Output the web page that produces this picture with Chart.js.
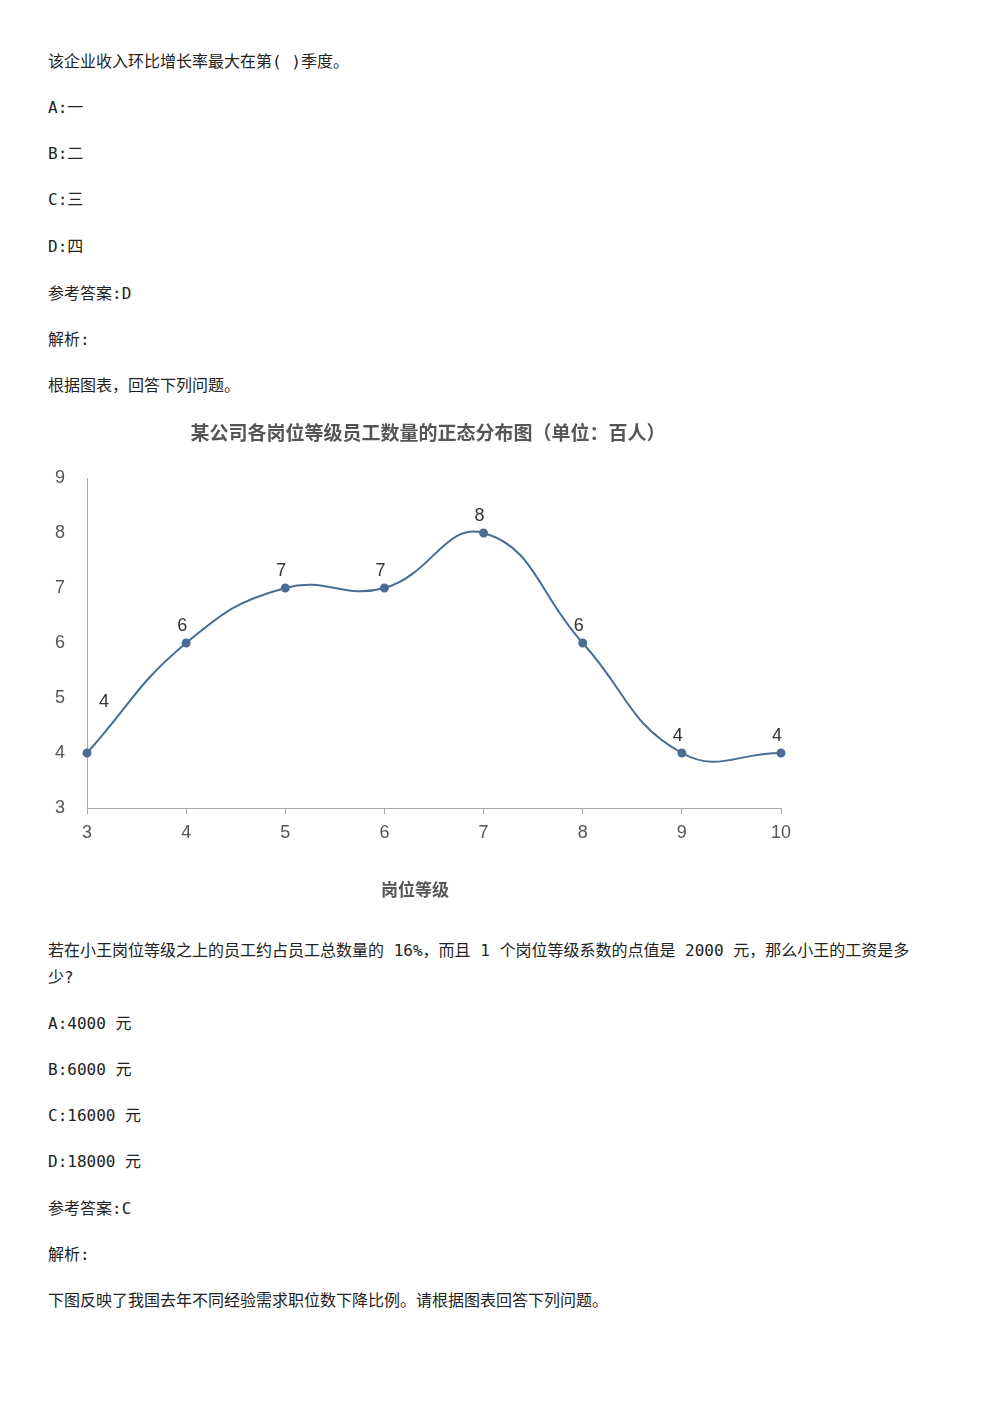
<!DOCTYPE html>
<html><head><meta charset="utf-8">
<script src="https://cdn.jsdelivr.net/npm/chart.js@4"></script>
<style>
body{margin:0;width:1000px;height:1414px;background:#fff;position:relative;font-family:"DejaVu Sans Mono","Noto Sans CJK SC",monospace;font-size:16px;color:#222}
.t{position:absolute;left:48px;line-height:27px;white-space:nowrap}
#wrap{position:absolute;left:45px;top:415px;width:770px;height:490px}
</style></head><body>
<div class="t" style="top:48px">该企业收入环比增长率最大在第( )季度。</div>
<div class="t" style="top:94px">A:一</div>
<div class="t" style="top:140px">B:二</div>
<div class="t" style="top:186px">C:三</div>
<div class="t" style="top:233px">D:四</div>
<div class="t" style="top:280px">参考答案:D</div>
<div class="t" style="top:326px">解析:</div>
<div class="t" style="top:372px">根据图表，回答下列问题。</div>
<div id="wrap"><canvas id="c"></canvas></div>
<div class="t" style="top:937px">若在小王岗位等级之上的员工约占员工总数量的 16%，而且 1 个岗位等级系数的点值是 2000 元，那么小王的工资是多</div>
<div class="t" style="top:964px">少?</div>
<div class="t" style="top:1010px">A:4000 元</div>
<div class="t" style="top:1056px">B:6000 元</div>
<div class="t" style="top:1102px">C:16000 元</div>
<div class="t" style="top:1148px">D:18000 元</div>
<div class="t" style="top:1195px">参考答案:C</div>
<div class="t" style="top:1241px">解析:</div>
<div class="t" style="top:1287px">下图反映了我国去年不同经验需求职位数下降比例。请根据图表回答下列问题。</div>
<script>
const grades = ['3','4','5','6','7','8','9','10'];
const counts = [4, 6, 7, 7, 8, 6, 4, 4];
const yTicks = [3, 4, 5, 6, 7, 8, 9];
const chartTitle = '某公司各岗位等级员工数量的正态分布图（单位：百人）';
const xTitle = '岗位等级';
const lineColor = '#4a6d92';

const deco = {
  id: 'deco',
  afterDraw(chart) {
    const ctx = chart.ctx;
    ctx.save();
    ctx.fillStyle = '#555';
    ctx.textAlign = 'center';
    ctx.textBaseline = 'middle';
    ctx.font = 'bold 19px "Noto Sans CJK SC"';
    ctx.fillText(chartTitle, 383, 18);
    ctx.font = 'bold 17px "Noto Sans CJK SC"';
    ctx.fillText(xTitle, 370, 475);
    ctx.font = '18px "Liberation Sans"';
    ctx.fillStyle = '#333';
    const meta = chart.getDatasetMeta(0);
    meta.data.forEach((p, i) => {
      if (i === 0) ctx.fillText(counts[i], p.x + 17, p.y - 51);
      else ctx.fillText(counts[i], p.x - 4, p.y - 17);
    });
    ctx.restore();
  }
};

new Chart(document.getElementById('c'), {
  type: 'line',
  data: {
    labels: grades,
    datasets: [{
      data: counts,
      borderColor: lineColor,
      backgroundColor: lineColor,
      borderWidth: 2,
      tension: 0.45,
      pointRadius: 3.5
    }]
  },
  options: {
    responsive: true,
    maintainAspectRatio: false,
    animation: false,
    layout: { padding: { top: 63, right: 34, left: 0, bottom: 0 } },
    plugins: { legend: { display: false }, tooltip: { enabled: false } },
    scales: {
      x: {
        offset: false,
        afterFit: s => { s.height = 97; },
        grid: { display: true, drawOnChartArea: false, drawTicks: true, tickLength: 6, tickColor: '#aaa' },
        border: { color: '#aaa' },
        ticks: { color: '#555', font: { size: 18, family: 'Liberation Sans' }, padding: 8 }
      },
      y: {
        min: 3, max: 9,
        afterFit: s => { s.width = 42; },
        afterBuildTicks: s => { s.ticks = yTicks.map(v => ({ value: v })); },
        grid: { display: false },
        border: { color: '#aaa' },
        ticks: { color: '#555', font: { size: 18, family: 'Liberation Sans' }, padding: 14 }
      }
    }
  },
  plugins: [deco]
});
</script>
</body></html>
